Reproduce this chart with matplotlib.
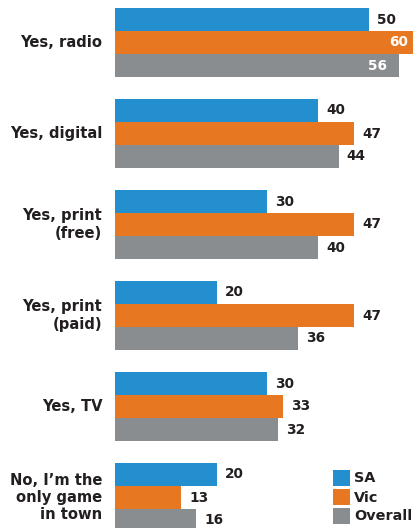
import numpy as np
import matplotlib.pyplot as plt
from matplotlib.patches import Rectangle

categories = ["Yes, radio", "Yes, digital", "Yes, print\n(free)", "Yes, print\n(paid)",
              "Yes, TV", "No, I\u2019m the\nonly game\nin town"]
sa = [50, 40, 30, 20, 30, 20]
vic = [60, 47, 47, 47, 33, 13]
overall = [56, 44, 40, 36, 32, 16]
series_names = ["SA", "Vic", "Overall"]
colors = ["#248FCE", "#E87722", "#8A8D8F"]

plt.rcParams['font.family'] = ['DejaVu Sans']
ink = '#231F20'

fig = plt.figure(figsize=(4.14, 5.28), dpi=100)
ax = fig.add_axes([115 / 414, 0, 1 - 115 / 414, 1])

bar_h = 23 / 91
y = np.arange(len(categories))
for k, (vals, col) in enumerate(zip([sa, vic, overall], colors)):
    pos = y - bar_h + k * bar_h
    ax.barh(pos, vals, height=bar_h, color=col, edgecolor='none')
    for p, v in zip(pos, vals):
        if v > 52:
            ax.text(v - 2.4, p, str(v), ha='right', va='center', color='white',
                    fontsize=9.8, fontweight='bold')
        else:
            ax.text(v + 1.6, p, str(v), ha='left', va='center', color=ink,
                    fontsize=9.8, fontweight='bold')

ax.set_xlim(0, 299 / 5.08)
ax.set_ylim((528 - 42.5) / 91, -42.5 / 91)
ax.axis('off')

for i, cat in enumerate(categories):
    ax.text(-2.5, i, cat, ha='right', va='center', fontsize=10.6, fontweight='bold',
            color=ink, linespacing=1.2, clip_on=False)

# legend drawn by hand in pixel units of an overlay axes
lax = fig.add_axes([0, 0, 1, 1], zorder=3)
lax.set_xlim(0, 414)
lax.set_ylim(528, 0)
lax.axis('off')
for j, (name, col) in enumerate(zip(series_names, colors)):
    top = 470 + 19 * j
    lax.add_patch(Rectangle((333, top), 17, 16, facecolor=col, edgecolor='none'))
    lax.text(354, top + 8.5, name, ha='left', va='center', fontsize=10.4,
             fontweight='bold', color=ink)

fig.savefig("out.png", dpi=100)
